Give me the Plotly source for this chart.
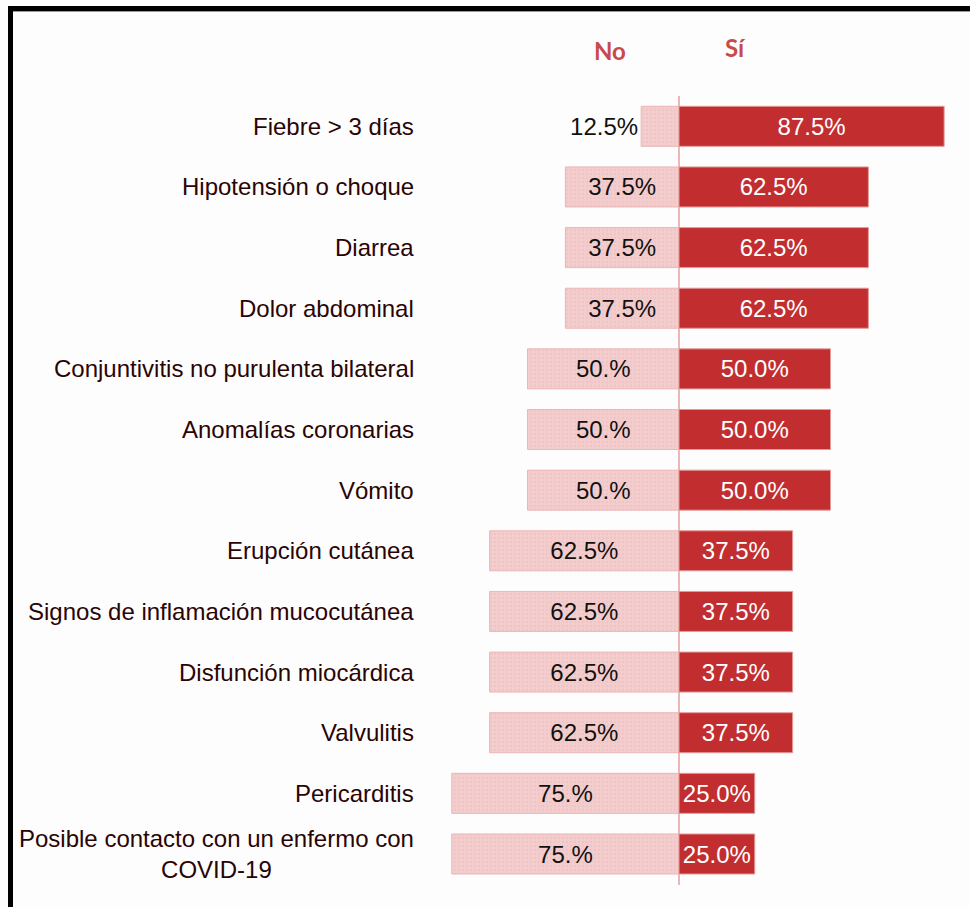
import plotly.graph_objects as go

# Symptom categories, top to bottom
categories = [
    "Fiebre > 3 días",
    "Hipotensión o choque",
    "Diarrea",
    "Dolor abdominal",
    "Conjuntivitis no purulenta bilateral",
    "Anomalías coronarias",
    "Vómito",
    "Erupción cutánea",
    "Signos de inflamación mucocutánea",
    "Disfunción miocárdica",
    "Valvulitis",
    "Pericarditis",
    "Posible contacto con un enfermo con<br>COVID-19",
]

# Percent of patients answering "No" / "Sí"
no_pct = [12.5, 37.5, 37.5, 37.5, 50.0, 50.0, 50.0, 62.5, 62.5, 62.5, 62.5, 75.0, 75.0]
si_pct = [87.5, 62.5, 62.5, 62.5, 50.0, 50.0, 50.0, 37.5, 37.5, 37.5, 37.5, 25.0, 25.0]

# Value labels as printed on the bars
no_labels = ["12.5%", "37.5%", "37.5%", "37.5%", "50.%", "50.%", "50.%",
             "62.5%", "62.5%", "62.5%", "62.5%", "75.%", "75.%"]
si_labels = ["87.5%", "62.5%", "62.5%", "62.5%", "50.0%", "50.0%", "50.0%",
             "37.5%", "37.5%", "37.5%", "37.5%", "25.0%", "25.0%"]

series_names = ["No", "Sí"]

PINK = "#f1c6c6"
RED = "#c22e2f"
HEAD = "#c94a4b"
LABEL = "#2a0404"
FONT = "Liberation Sans, Arial, sans-serif"
FS = 24

W, H = 970, 907
ML, MR, MT, MB = 425, 10, 96, 22
ZERO_PX = 679
PX_PER_UNIT = 3.03
x_min = -(ZERO_PX - ML) / PX_PER_UNIT
x_max = (W - MR - ZERO_PX) / PX_PER_UNIT

fig = go.Figure()

# "No" bars extend to the left of zero
fig.add_trace(go.Bar(
    name=series_names[0],
    y=categories,
    x=[-v for v in no_pct],
    orientation="h",
    text=no_labels,
    textposition=["outside"] + ["inside"] * (len(no_pct) - 1),
    insidetextanchor="middle",
    textangle=0,
    constraintext="none",
    cliponaxis=False,
    textfont=dict(family=FONT, size=FS, color="#111111"),
    marker=dict(
        color=PINK,
        line=dict(color="#ecb6b6", width=1),
        pattern=dict(shape=".", size=4, solidity=0.3,
                     fgcolor="#ebbaba", bgcolor="#f3cdcd", fillmode="overlay"),
    ),
    hoverinfo="skip",
))

# "Sí" bars extend to the right of zero
fig.add_trace(go.Bar(
    name=series_names[1],
    y=categories,
    x=si_pct,
    orientation="h",
    text=si_labels,
    textposition="inside",
    insidetextanchor="middle",
    textangle=0,
    constraintext="none",
    textfont=dict(family=FONT, size=FS, color="#ffffff"),
    marker=dict(color=RED, line=dict(color="#e39a9a", width=1)),
    hoverinfo="skip",
))

annotations = []
# Category labels, right-aligned next to the plot area
for c in categories:
    annotations.append(dict(
        x=0, xref="paper", y=c, yref="y",
        text=c, showarrow=False, xanchor="right", yanchor="middle",
        xshift=-9, align="center",
        font=dict(family=FONT, size=FS, color=LABEL),
    ))

# Column headers above the bars
plot_h = H - MT - MB
for name, px_x, px_y in [(series_names[0], 610, 50), (series_names[1], 735, 48)]:
    annotations.append(dict(
        x=(px_x - ZERO_PX) / PX_PER_UNIT, xref="x",
        y=(H - MB - px_y) / plot_h, yref="paper",
        text=f"<b>{name}</b>", showarrow=False,
        xanchor="center", yanchor="middle",
        font=dict(family="Lato, Open Sans, sans-serif", size=24, color=HEAD),
    ))

# Black frame along the top and left edges
plot_w = W - ML - MR
def px_to_paper_x(px):
    return (px - ML) / plot_w

def px_to_paper_y(py):
    return (H - MB - py) / plot_h

shapes = [
    dict(type="line", xref="paper", yref="paper",
         x0=px_to_paper_x(8), x1=px_to_paper_x(W + 5),
         y0=px_to_paper_y(8.5), y1=px_to_paper_y(8.5),
         line=dict(color="#000000", width=5)),
    dict(type="line", xref="paper", yref="paper",
         x0=px_to_paper_x(8), x1=px_to_paper_x(W + 5),
         y0=px_to_paper_y(11.5), y1=px_to_paper_y(11.5),
         line=dict(color="#9a9a9a", width=1)),
    dict(type="line", xref="paper", yref="paper",
         x0=px_to_paper_x(10.5), x1=px_to_paper_x(10.5),
         y0=px_to_paper_y(6), y1=px_to_paper_y(H + 5),
         line=dict(color="#000000", width=5)),
]

fig.update_layout(
    width=W, height=H,
    margin=dict(l=ML, r=MR, t=MT, b=MB),
    barmode="relative",
    bargap=0.34,
    showlegend=False,
    paper_bgcolor="#fdfdfd",
    plot_bgcolor="#fdfdfd",
    annotations=annotations,
    shapes=shapes,
    xaxis=dict(
        range=[x_min, x_max],
        showgrid=False, showticklabels=False, ticks="",
        zeroline=True, zerolinecolor="#ebb7b7", zerolinewidth=2,
        fixedrange=True,
    ),
    yaxis=dict(
        type="category",
        categoryorder="array", categoryarray=categories,
        autorange="reversed",
        showgrid=False, showticklabels=False, ticks="",
        zeroline=False, showline=False,
        fixedrange=True,
    ),
)

fig.write_html("out.html", config={"displayModeBar": False})
